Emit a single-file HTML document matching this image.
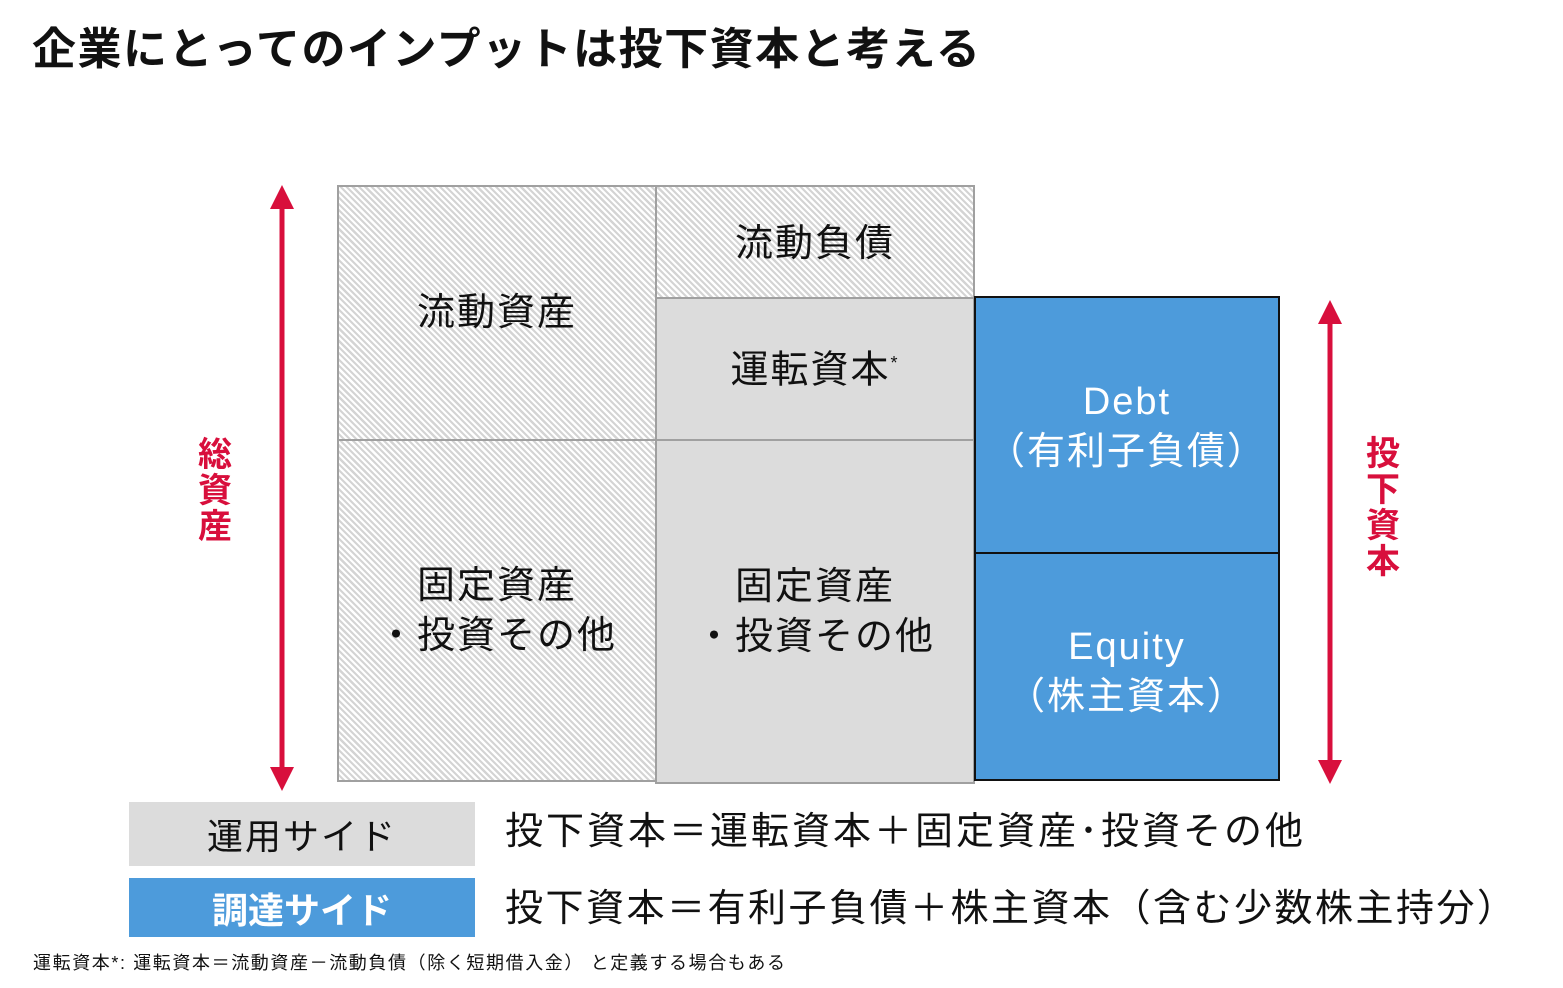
<!DOCTYPE html>
<html><head><meta charset="utf-8"><style>
body{margin:0;width:1563px;height:988px;background:#fff;position:relative;overflow:hidden;font-family:"Liberation Sans","Noto Sans CJK JP",sans-serif;color:#111}
.a{position:absolute;box-sizing:border-box}
.h{background:repeating-linear-gradient(45deg,#fff 0 2.2px,#d4d4d4 2.2px 4.4px)}
.g{background:#dcdcdc}
.c{display:flex;align-items:center;justify-content:center;text-align:center;flex-direction:column}
.b{background:#4d9bdb;border:2px solid #111;color:#fff}
.t36{font-size:38px;line-height:50px;letter-spacing:2px}
.red{color:#d80f3c;font-weight:bold;font-size:34px;line-height:36px;width:40px;text-align:center}
</style></head><body>
<div class="a" style="left:32px;top:22px;font-size:44px;font-weight:bold;line-height:56px;letter-spacing:1.5px">企業にとってのインプットは投下資本と考える</div>

<div class="a h c" style="left:337px;top:185px;width:320px;height:256px;border:2px solid #a0a0a0"><div class="t36" style="margin-top:0px">流動資産</div></div>
<div class="a h c" style="left:337px;top:439px;width:320px;height:343px;border:2px solid #a0a0a0"><div class="t36">固定資産<br>・投資その他</div></div>
<div class="a h c" style="left:655px;top:185px;width:320px;height:114px;border:2px solid #a0a0a0"><div class="t36" style="margin-top:4px">流動負債</div></div>
<div class="a g c" style="left:655px;top:297px;width:320px;height:144px;border:2px solid #a0a0a0"><div class="t36" style="margin-top:-4px">運転資本<sup style="font-size:18px">*</sup></div></div>
<div class="a g c" style="left:655px;top:439px;width:320px;height:345px;border:2px solid #a0a0a0"><div class="t36">固定資産<br>・投資その他</div></div>
<div class="a b c" style="left:974px;top:296px;width:306px;height:259px"><div class="t36" style="margin-top:2px">Debt<br>（有利子負債）</div></div>
<div class="a b c" style="left:974px;top:552px;width:306px;height:229px"><div class="t36" style="margin-top:10px">Equity<br>（株主資本）</div></div>

<svg class="a" style="left:0;top:0" width="1563" height="988">
<g fill="#d80f3c">
<rect x="279.5" y="205" width="5" height="566"/>
<polygon points="282,185 270,209 294,209"/><polygon points="282,791 270,767 294,767"/>
<rect x="1327.5" y="320" width="5" height="444"/>
<polygon points="1330,300 1318,324 1342,324"/><polygon points="1330,784 1318,760 1342,760"/>
</g></svg>
<div class="a red" style="left:195px;top:437px">総<br>資<br>産</div>
<div class="a red" style="left:1363px;top:436px">投<br>下<br>資<br>本</div>

<div class="a g c" style="left:129px;top:802px;width:346px;height:64px;font-size:36px;letter-spacing:2px">運用サイド</div>
<div class="a c" style="left:129px;top:878px;width:346px;height:59px;background:#4d9bdb;color:#fff;font-size:36px;font-weight:bold">調達サイド</div>
<div class="a" style="left:505px;top:807px;font-size:38px;line-height:50px;letter-spacing:3px">投下資本＝運転資本＋固定資産･投資その他</div>
<div class="a" style="left:505px;top:884px;font-size:38px;line-height:50px;letter-spacing:2.5px">投下資本＝有利子負債＋株主資本（含む少数株主持分）</div>
<div class="a" style="left:33px;top:951px;font-size:18px;line-height:24px;letter-spacing:1.6px">運転資本*: 運転資本＝流動資産－流動負債（除く短期借入金） と定義する場合もある</div>
</body></html>
